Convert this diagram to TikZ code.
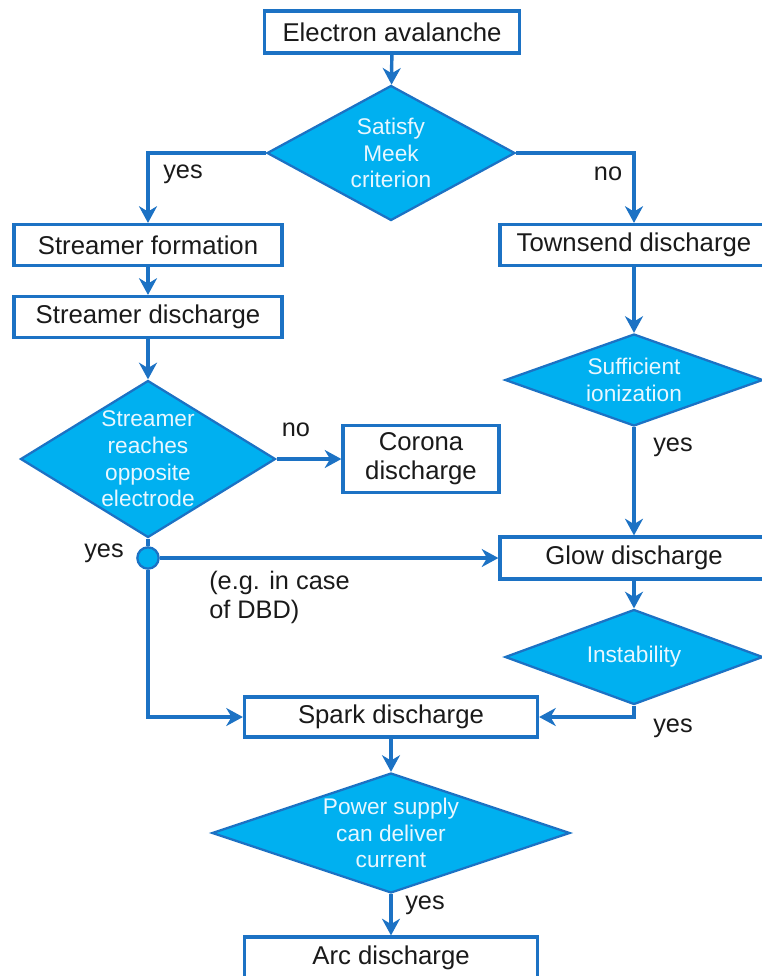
\documentclass[tikz,border=0pt]{standalone}
\usepackage{fontspec}
\setmainfont{Liberation Sans}
\usetikzlibrary{shapes.geometric,arrows.meta}

\definecolor{flowblue}{HTML}{1C72C4}
\definecolor{decfill}{HTML}{00B0F0}
\definecolor{dectext}{HTML}{E8F7FF}
\definecolor{ink}{HTML}{1A1A1A}

\tikzset{
  procbox/.style={draw=flowblue, line width=2.4pt, fill=white, text=ink, inner sep=0pt,
    align=center, font=\fontsize{19.3}{21.75}\selectfont},
  decision/.style={diamond, draw=flowblue, line width=1.7pt, fill=decfill, inner sep=0pt},
  dtext/.style={text=dectext, align=center, inner sep=0pt, font=\fontsize{17}{20}\selectfont},
  flow/.style={draw=flowblue, line width=2.6pt, -{Stealth[length=12.5pt,width=13.5pt,inset=4pt]}},
  plain/.style={draw=flowblue, line width=2.6pt},
  note/.style={text=ink, inner sep=0pt, align=left, font=\fontsize{19}{21.75}\selectfont}
}

\begin{document}
\begin{tikzpicture}[x=0.75pt,y=-0.75pt]
    \useasboundingbox (0,0) rectangle (762,976);
    \clip (0,0) rectangle (762,976);
    % boxes
    \node[procbox, minimum width=191.25pt, minimum height=31.5pt] (aval) at (392,32) {Electron avalanche};
    \node[procbox, minimum width=201pt, minimum height=30.75pt] (form) at (148,245) {Streamer formation};
    \node[procbox, minimum width=201pt, minimum height=30.75pt] (sdis) at (148,317) {Streamer discharge};
    \node[procbox, minimum width=201pt, minimum height=30.75pt] (town) at (634,245) {Townsend discharge};
    \node[procbox, minimum width=117pt, minimum height=50.25pt] (corona) at (421,459) {Corona\\discharge};
    \node[procbox, minimum width=201pt, minimum height=31.5pt] (glow) at (634,558) {Glow discharge};
    \node[procbox, minimum width=219.75pt, minimum height=30pt] (spark) at (391,717) {Spark discharge};
    \node[procbox, minimum width=219.75pt, minimum height=31.5pt] (arc) at (391,958) {Arc discharge};
    % decisions
    \node[decision, minimum width=186pt, minimum height=101.25pt,
      label={[dtext,name=meektxt]center:Satisfy\\Meek\\criterion}] (meek) at (391,153) {};
    \node[decision, minimum width=191.25pt, minimum height=117.75pt,
      label={[dtext,name=reachtxt]center:Streamer\\reaches\\opposite\\electrode}] (reach) at (148,459) {};
    \node[decision, minimum width=193.5pt, minimum height=69pt,
      label={[dtext,name=sufftxt]center:Sufficient\\ionization}] (suff) at (634,380) {};
    \node[decision, minimum width=193.5pt, minimum height=71.25pt,
      label={[dtext,name=instabtxt]center:Instability}] (instab) at (634,657) {};
    \node[decision, minimum width=268.5pt, minimum height=90pt,
      label={[dtext,name=powertxt]center:Power supply\\can deliver\\current}] (power) at (391,833) {};
    % junction
    \node[circle, draw=flowblue, line width=1.7pt, fill=decfill, minimum size=16pt, inner sep=0pt] (junc) at (148,558) {};
    % connectors
    \draw[flow] (aval) -- (meek);
    \draw[flow] (meek.west) -| (form.north);
    \draw[flow] (meek.east) -| (town.north);
    \draw[flow] (form) -- (sdis);
    \draw[flow] (sdis) -- (reach);
    \draw[flow] (reach.east) -- (corona.west);
    \draw[plain] (reach.south) -- (junc.north);
    \draw[flow] (junc.east) -- (glow.west);
    \draw[flow] (junc.south) |- (spark.west);
    \draw[flow] (town) -- (suff);
    \draw[flow] (suff) -- (glow);
    \draw[flow] (glow) -- (instab);
    \draw[flow] (instab.south) |- (spark.east);
    \draw[flow] (spark) -- (power);
    \draw[flow] (power) -- (arc);
    % labels
    \node[note] (yes1) at (183,174) {yes};
    \node[note] (no1) at (608,174) {no};
    \node[note] (no2) at (296,430) {no};
    \node[note] (yes2) at (104,553) {yes};
    \node[note, anchor=west] (dbd) at (209,597) {(e.g. in case\\of DBD)};
    \node[note] (yes3) at (673,447) {yes};
    \node[note] (yes4) at (673,728) {yes};
    \node[note] (yes5) at (425,905) {yes};
\end{tikzpicture}
\end{document}
